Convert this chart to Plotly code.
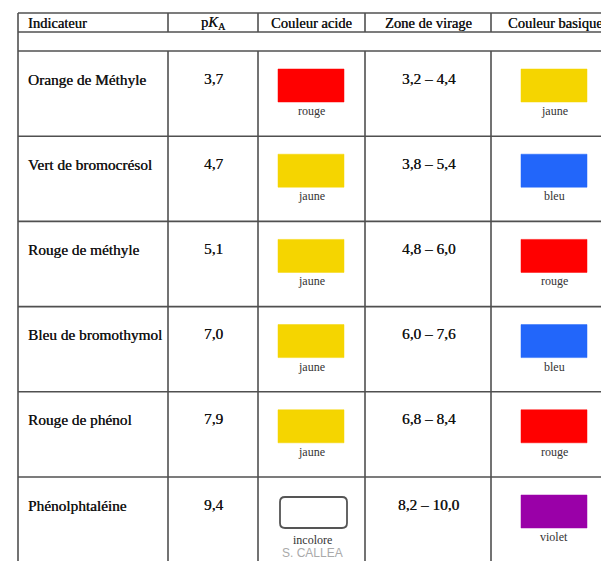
import plotly.graph_objects as go

# ---- data ----
headers = ["Indicateur", "p<i>K</i><sub>A</sub>", "Couleur acide", "Zone de virage", "Couleur basique"]
indicators = ["Orange de Méthyle", "Vert de bromocrésol", "Rouge de méthyle",
              "Bleu de bromothymol", "Rouge de phénol", "Phénolphtaléine"]
pka_values = ["3,7", "4,7", "5,1", "7,0", "7,9", "9,4"]
zones = ["3,2 – 4,4", "3,8 – 5,4", "4,8 – 6,0", "6,0 – 7,6", "6,8 – 8,4", "8,2 – 10,0"]
acid_colors = ["rouge", "jaune", "jaune", "jaune", "jaune", "incolore"]
basic_colors = ["jaune", "bleu", "rouge", "bleu", "rouge", "violet"]
swatch = {"rouge": "#FF0000", "jaune": "#F5D500", "bleu": "#2266FA",
          "violet": "#9A00A8", "incolore": "#FFFFFF"}
credit = "S. CALLEA"

# ---- layout geometry (page pixel coordinates) ----
W, H = 601, 561
col_x = [18, 168, 258, 365, 491, 640]
y_top, y_head, y_rows = 13, 32, 51
row_h = 85.2
line_col = "#505050"
FONT = "Liberation Serif, Times New Roman, serif"
TXT = "#111111"
SHADOW = "0.35px 0px 0px #333"

def main_font(size):
    return dict(family=FONT, size=size, color=TXT, shadow=SHADOW)

fig = go.Figure()
shapes = []
ann = []

# grid lines
hlines = [y_top, y_head, y_rows] + [y_rows + row_h * (i + 1) for i in range(len(indicators))]
for y in hlines:
    shapes.append(dict(type="line", x0=col_x[0], x1=W + 5, y0=y, y1=y,
                       line=dict(color=line_col, width=1.6)))
shapes.append(dict(type="line", x0=col_x[0], x1=col_x[0], y0=y_top, y1=H + 5,
                   line=dict(color=line_col, width=1.6)))
for x in col_x[1:5]:
    shapes.append(dict(type="line", x0=x, x1=x, y0=y_top, y1=y_head,
                       line=dict(color=line_col, width=1.6)))
    shapes.append(dict(type="line", x0=x, x1=x, y0=y_rows, y1=H + 5,
                       line=dict(color=line_col, width=1.6)))

# headers
hy = (y_top + y_head) / 2 + 0.5
ann.append(dict(x=col_x[0] + 8, y=hy, text=headers[0], xanchor="left"))
for j in range(1, 5):
    cx = (col_x[j] + col_x[j + 1]) / 2 if j < 4 else 555
    ann.append(dict(x=cx, y=hy, text=headers[j], xanchor="center"))
for a in ann:
    a.update(yanchor="middle", showarrow=False, font=main_font(14.5))

def add_swatch(x0, top, name):
    fill = swatch[name]
    if name == "incolore":
        shapes.append(dict(type="path",
                           path=f"M {x0+5},{top} L {x0+62},{top} Q {x0+67},{top} {x0+67},{top+5} "
                                f"L {x0+67},{top+26} Q {x0+67},{top+31} {x0+62},{top+31} "
                                f"L {x0+5},{top+31} Q {x0},{top+31} {x0},{top+26} "
                                f"L {x0},{top+5} Q {x0},{top} {x0+5},{top} Z",
                           fillcolor=fill, line=dict(color="#555", width=1.8)))
    else:
        shapes.append(dict(type="rect", x0=x0, x1=x0 + 66, y0=top, y1=top + 33,
                           fillcolor=fill, line=dict(color=fill, width=0.5)))

for i, name in enumerate(indicators):
    r0 = y_rows + row_h * i
    ty = r0 + 28
    ann.append(dict(x=col_x[0] + 8, y=ty, text=name, xanchor="left", yanchor="middle",
                    showarrow=False, font=main_font(15.3)))
    ann.append(dict(x=213, y=ty - 1, text=pka_values[i], xanchor="center", yanchor="middle",
                    showarrow=False, font=main_font(15.3)))
    ann.append(dict(x=429, y=ty - 1, text=zones[i], xanchor="center", yanchor="middle",
                    showarrow=False, font=main_font(15.3)))
    # acid swatch
    if acid_colors[i] == "incolore":
        add_swatch(280, r0 + 20, acid_colors[i])
        ann.append(dict(x=312, y=r0 + 63, text=acid_colors[i], xanchor="center", yanchor="middle",
                        showarrow=False, font=dict(family=FONT, size=12, color="#333")))
        ann.append(dict(x=312, y=r0 + 76, text=credit, xanchor="center", yanchor="middle",
                        showarrow=False, font=dict(family="Liberation Sans, Arial, sans-serif",
                                                   size=12, color="#aaaaaa")))
    else:
        add_swatch(278, r0 + 18, acid_colors[i])
        ann.append(dict(x=311, y=r0 + 60, text=acid_colors[i], xanchor="center", yanchor="middle",
                        showarrow=False, font=dict(family=FONT, size=12, color="#333")))
    # basic swatch
    add_swatch(521, r0 + 18, basic_colors[i])
    ann.append(dict(x=554, y=r0 + 60, text=basic_colors[i], xanchor="center", yanchor="middle",
                    showarrow=False, font=dict(family=FONT, size=12, color="#333")))

fig.update_layout(
    width=W, height=H, margin=dict(l=0, r=0, t=0, b=0),
    paper_bgcolor="white", plot_bgcolor="white",
    xaxis=dict(range=[0, W], visible=False, fixedrange=True),
    yaxis=dict(range=[H, 0], visible=False, fixedrange=True),
    shapes=shapes, annotations=ann, showlegend=False,
)
fig.write_html(
    "out.html",
    config={"displayModeBar": False, "staticPlot": True},
    post_script="document.body.style.margin='0';document.documentElement.style.overflow='hidden';",
)
